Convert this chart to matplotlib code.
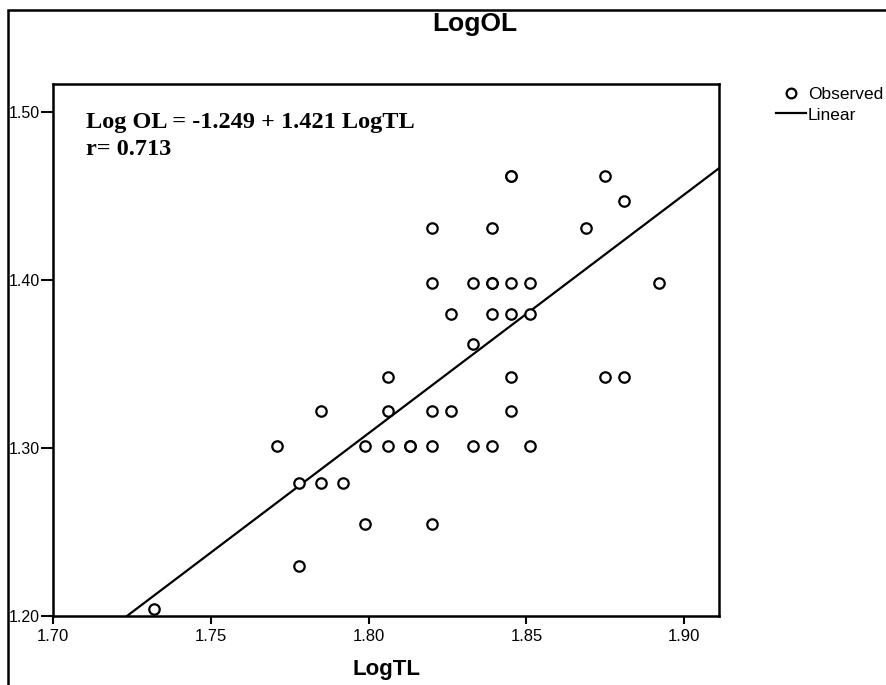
import numpy as np
import matplotlib.pyplot as plt
from matplotlib.lines import Line2D
from matplotlib.patches import Rectangle

# observed points (LogTL, LogOL)
log_tl = [1.732, 1.771, 1.778, 1.778, 1.785, 1.785, 1.792, 1.799, 1.799,
          1.806, 1.806, 1.806, 1.813, 1.813, 1.820, 1.820, 1.820, 1.820, 1.820,
          1.826, 1.826, 1.833, 1.833, 1.833, 1.839, 1.839, 1.839, 1.839, 1.839,
          1.845, 1.845, 1.845, 1.845, 1.845, 1.845, 1.851, 1.851, 1.851,
          1.869, 1.875, 1.875, 1.881, 1.881, 1.892]
log_ol = [1.204, 1.301, 1.279, 1.230, 1.322, 1.279, 1.279, 1.301, 1.255,
          1.342, 1.322, 1.301, 1.301, 1.301, 1.431, 1.398, 1.322, 1.301, 1.255,
          1.380, 1.322, 1.398, 1.362, 1.301, 1.431, 1.398, 1.380, 1.301, 1.398,
          1.462, 1.398, 1.380, 1.342, 1.322, 1.462, 1.398, 1.380, 1.301,
          1.431, 1.462, 1.342, 1.447, 1.342, 1.398]

intercept = -1.249
slope = 1.421
r_value = 0.713

x_ticks = [1.70, 1.75, 1.80, 1.85, 1.90]
y_ticks = [1.20, 1.30, 1.40, 1.50]
xlim = (1.70, 1.911)
ylim = (1.20, 1.5167)

fig = plt.figure(figsize=(8.86, 6.85), dpi=100)
ax = fig.add_axes([0.0598, 0.1007, 0.7517, 0.7767])

ax.plot(log_tl, log_ol, linestyle='none', marker='o', markersize=7.5,
        markerfacecolor='white', markeredgecolor='black', markeredgewidth=1.6,
        zorder=3)
fit_x = np.array(xlim)
ax.plot(fit_x, intercept + slope * fit_x, color='black', linewidth=1.6, zorder=2)

ax.set_xlim(*xlim)
ax.set_ylim(*ylim)
ax.set_xticks(x_ticks)
ax.set_xticklabels([f'{v:.2f}' for v in x_ticks], fontfamily='Liberation Sans', fontsize=12)
ax.set_yticks(y_ticks)
ax.set_yticklabels([f'{v:.2f}' for v in y_ticks], fontfamily='Liberation Sans', fontsize=11.5)
ax.tick_params(direction='out', length=6, width=1.5)
ax.tick_params(axis='x', pad=3)
ax.tick_params(axis='y', length=9, pad=0.5)
for sp in ax.spines.values():
    sp.set_linewidth(1.8)

ax.text(0.05, 0.928, f'Log OL = {intercept} + {slope} LogTL', transform=ax.transAxes,
        fontfamily='Liberation Serif', fontweight='bold', fontsize=17.5, va='center')
ax.text(0.05, 0.876, f'r= {r_value}', transform=ax.transAxes,
        fontfamily='Liberation Serif', fontweight='bold', fontsize=17.5, va='center')

fig.text(475 / 886, 1 - 24 / 685, 'LogOL', ha='center', va='center',
         fontfamily='Liberation Sans', fontweight='bold', fontsize=19)
fig.text(386 / 886, 1 - 670 / 685, 'LogTL', ha='center', va='center',
         fontfamily='Liberation Sans', fontweight='bold', fontsize=16)

handles = [Line2D([], [], linestyle='none', marker='o', markersize=7,
                  markerfacecolor='white', markeredgecolor='black', markeredgewidth=1.6),
           Line2D([], [], color='black', linewidth=1.6)]
fig.legend(handles, ['Observed', 'Linear'], loc='upper left',
           bbox_to_anchor=(776 / 886, 1 - 87 / 685), frameon=False,
           borderpad=0, borderaxespad=0, handlelength=1.75, handletextpad=0.1,
           labelspacing=0.3, prop={'family': 'Liberation Sans', 'size': 12.5})

# outer frame around the figure
fig.patches.append(Rectangle((8 / 886, -0.1), 1.2, 1 - 10 / 685 + 0.1,
                             transform=fig.transFigure, fill=False,
                             edgecolor='black', linewidth=1.8))

fig.savefig('out.png', dpi=100)
